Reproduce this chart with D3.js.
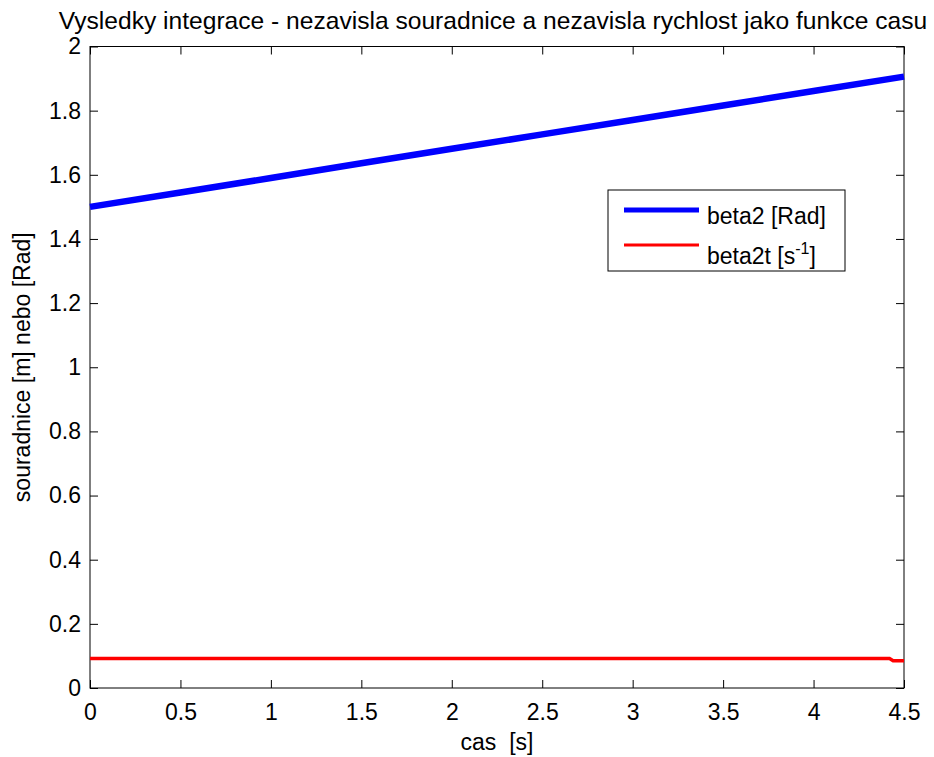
<!DOCTYPE html>
<html>
<head>
<meta charset="utf-8">
<script src="https://cdn.jsdelivr.net/npm/d3@7"></script>
<style>
  body { margin: 0; background: #fff; }
  text { font-family: "Liberation Sans", Arial, sans-serif; fill: #000; }
</style>
</head>
<body>
<svg width="934" height="757"></svg>
<script>
// data
var timeBeta2 = [0, 0.5, 1, 1.5, 2, 2.5, 3, 3.5, 4, 4.5];
var beta2 = [1.500, 1.545, 1.590, 1.636, 1.681, 1.726, 1.771, 1.816, 1.861, 1.906];
var timeBeta2t = [0, 4.42, 4.44, 4.5];
var beta2t = [0.092, 0.092, 0.085, 0.085];
var xTicks = [0, 0.5, 1, 1.5, 2, 2.5, 3, 3.5, 4, 4.5];
var yTicks = [0, 0.2, 0.4, 0.6, 0.8, 1, 1.2, 1.4, 1.6, 1.8, 2];
var legendNames = ["beta2 [Rad]", "beta2t [s", "-1", "]"];

var svg = d3.select("svg"),
    margin = {top: 46.5, right: 30, bottom: 69, left: 90},
    width = +svg.attr("width") - margin.left - margin.right,
    height = +svg.attr("height") - margin.top - margin.bottom,
    g = svg.append("g").attr("transform", "translate(" + margin.left + "," + margin.top + ")");

var x = d3.scaleLinear().domain([0, 4.5]).range([0, width]);
var y = d3.scaleLinear().domain([0, 2]).range([height, 0]);

var fmt = function(d) { return String(d); };
var tick = 8;
var fs = "23px";

// bottom / left axes with labels, ticks pointing inward
var xAxis = g.append("g")
    .attr("transform", "translate(0," + height + ")")
    .call(d3.axisBottom(x).tickValues(xTicks).tickFormat(fmt).tickSize(-tick).tickPadding(16));
var yAxis = g.append("g")
    .call(d3.axisLeft(y).tickValues(yTicks).tickFormat(fmt).tickSize(-tick).tickPadding(9));
// top / right: ticks only
g.append("g")
    .call(d3.axisTop(x).tickValues(xTicks).tickFormat("").tickSize(-tick));
g.append("g")
    .attr("transform", "translate(" + width + ",0)")
    .call(d3.axisRight(y).tickValues(yTicks).tickFormat("").tickSize(-tick));

g.selectAll(".domain").remove();
g.selectAll(".tick line").attr("stroke", "#000").attr("stroke-width", 1);
g.selectAll(".tick text").style("font-size", fs).attr("fill", "#000")
    .style("font-family", "'Liberation Sans', Arial, sans-serif");
xAxis.selectAll(".tick text").attr("dy", "0.71em");

g.append("rect")
    .attr("width", width).attr("height", height)
    .attr("fill", "none").attr("stroke", "#000").attr("stroke-width", 1);

var line = d3.line()
    .x(function(d) { return x(d[0]); })
    .y(function(d) { return y(d[1]); });

g.append("path")
    .datum(d3.zip(timeBeta2t, beta2t))
    .attr("fill", "none").attr("stroke", "#ff0000").attr("stroke-width", 3.5)
    .attr("d", line);

g.append("path")
    .datum(d3.zip(timeBeta2, beta2))
    .attr("fill", "none").attr("stroke", "#0000ff").attr("stroke-width", 6.5)
    .attr("d", line);

// legend
var leg = svg.append("g").attr("transform", "translate(608,190)");
leg.append("rect")
    .attr("width", 237).attr("height", 81)
    .attr("fill", "#fff").attr("stroke", "#000").attr("stroke-width", 1);
leg.append("line").attr("x1", 16).attr("x2", 91).attr("y1", 20).attr("y2", 20)
    .attr("stroke", "#0000ff").attr("stroke-width", 5);
leg.append("line").attr("x1", 16).attr("x2", 91).attr("y1", 55).attr("y2", 55)
    .attr("stroke", "#ff0000").attr("stroke-width", 3);
leg.append("text").attr("x", 99).attr("y", 34).style("font-size", fs).text(legendNames[0]);
var t2 = leg.append("text").attr("x", 99).attr("y", 74).style("font-size", fs);
t2.append("tspan").text(legendNames[1]);
t2.append("tspan").attr("dy", -10).style("font-size", "16px").text(legendNames[2]);
t2.append("tspan").attr("dy", 10).text(legendNames[3]);

// title and axis labels
svg.append("text")
    .attr("x", margin.left + width / 2 - 4).attr("y", 29)
    .attr("text-anchor", "middle").style("font-size", "24.6px")
    .text("Vysledky integrace - nezavisla souradnice a nezavisla rychlost jako funkce casu");

svg.append("text")
    .attr("x", margin.left + width / 2).attr("y", 750)
    .attr("text-anchor", "middle").style("font-size", fs)
    .style("white-space", "pre").attr("xml:space", "preserve")
    .text("cas  [s]");

svg.append("text")
    .attr("transform", "translate(30," + (margin.top + height / 2) + ") rotate(-90)")
    .attr("text-anchor", "middle").style("font-size", fs)
    .text("souradnice [m] nebo [Rad]");
</script>
</body>
</html>
